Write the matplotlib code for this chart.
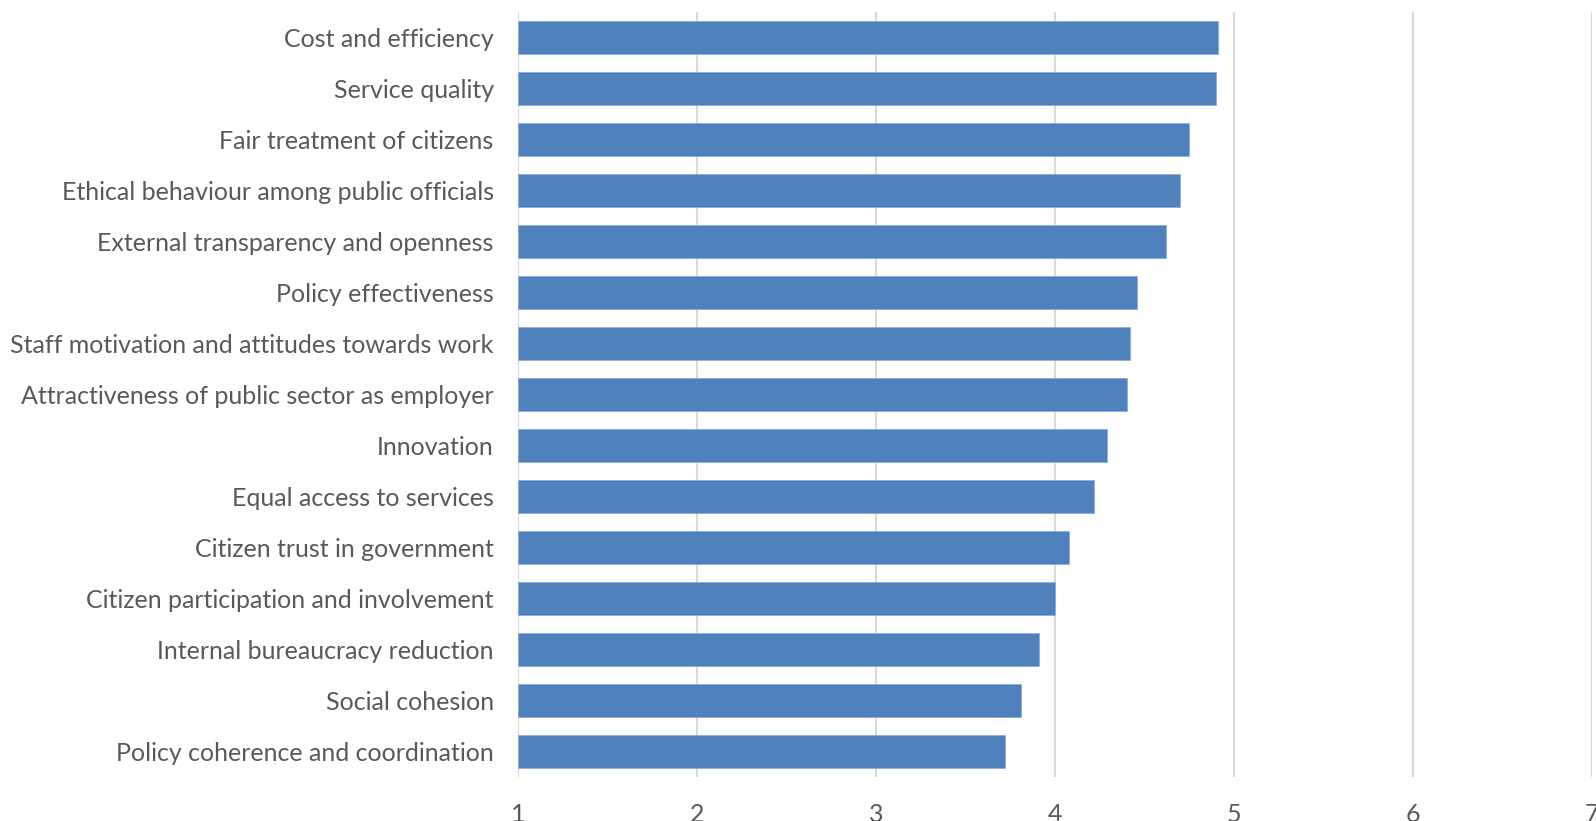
import matplotlib

matplotlib.use("Agg")
import matplotlib.pyplot as plt  # noqa: E402

categories = [
    "Cost and efficiency",
    "Service quality",
    "Fair treatment of citizens",
    "Ethical behaviour among public officials",
    "External transparency and openness",
    "Policy effectiveness",
    "Staff motivation and attitudes towards work",
    "Attractiveness of public sector as employer",
    "Innovation",
    "Equal access to services",
    "Citizen trust in government",
    "Citizen participation and involvement",
    "Internal bureaucracy reduction",
    "Social cohesion",
    "Policy coherence and coordination",
]
scores = [4.91, 4.90, 4.75, 4.70, 4.62, 4.46, 4.42, 4.40,
          4.29, 4.22, 4.08, 4.00, 3.91, 3.81, 3.72]
x_ticks = [1, 2, 3, 4, 5, 6, 7]

BAR_COLOR = "#4F81BD"
TEXT_COLOR = "#595959"
GRID_COLOR = "#D9D9D9"
W, H = 1596, 821

plt.rcParams["font.family"] = ["Lato", "DejaVu Sans"]

fig = plt.figure(figsize=(W / 100, H / 100), dpi=100)
ax = fig.add_axes([518 / W, 1 - 777 / H, (1592 - 518) / W, (777 - 12) / H])

positions = list(range(len(categories)))
lefts = [x_ticks[0]] * len(scores)
widths = [s - x_ticks[0] for s in scores]
ax.barh(positions, widths, left=lefts, height=0.66, color=BAR_COLOR,
        edgecolor="#8EAADB", linewidth=0.6, zorder=3)

ax.set_xlim(x_ticks[0], x_ticks[-1])
ax.set_ylim(len(categories) - 0.5, -0.5)
ax.set_xticks(x_ticks)
ax.set_xticklabels([str(t) for t in x_ticks])
ax.set_yticks(positions)
ax.set_yticklabels(categories)

ax.tick_params(axis="x", length=0, pad=19, labelsize=18, labelcolor=TEXT_COLOR)
ax.tick_params(axis="y", length=0, pad=17.5, labelsize=18, labelcolor=TEXT_COLOR)

ax.grid(axis="x", color=GRID_COLOR, linewidth=1.5, zorder=0)
ax.set_axisbelow(True)
for side in ("top", "right", "bottom", "left"):
    ax.spines[side].set_visible(False)

fig.savefig("out.png", dpi=100)
